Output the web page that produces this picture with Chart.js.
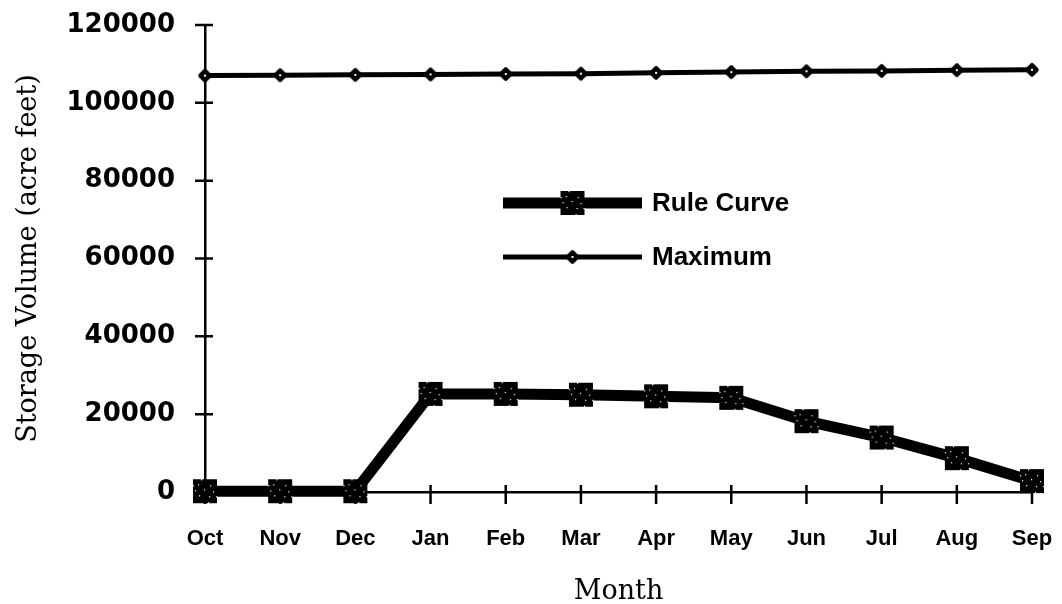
<!DOCTYPE html>
<html>
<head>
<meta charset="utf-8">
<script src="https://cdn.jsdelivr.net/npm/chart.js@4.4.1/dist/chart.umd.min.js"></script>
<style>
  html, body { margin: 0; padding: 0; background: #fff; overflow: hidden; }
  #wrap { width: 1062px; height: 604px; position: relative; }
  #chart { display: block; }
</style>
</head>
<body>
<div id="wrap"><canvas id="chart"></canvas></div>
<script>
const months = ['Oct', 'Nov', 'Dec', 'Jan', 'Feb', 'Mar', 'Apr', 'May', 'Jun', 'Jul', 'Aug', 'Sep'];
const ruleCurve = [200, 200, 200, 25200, 25200, 25000, 24600, 24200, 18200, 14000, 8700, 2800];
const maximum = [107000, 107100, 107200, 107300, 107400, 107500, 107700, 107900, 108100, 108200, 108400, 108500];
const yTicks = [0, 20000, 40000, 60000, 80000, 100000, 120000];

// speckled square marker used for the rule curve
function ruleMarker() {
  const c = document.createElement('canvas');
  c.width = 26; c.height = 26;
  const g = c.getContext('2d');
  g.fillStyle = '#000';
  g.fillRect(1, 1, 24, 24);
  g.fillStyle = '#fff';
  const dots = [[6,6],[18,7],[7,17],[17,18],[12,11],[3,12],[21,13],[1,7],[24,18],[9,1],[16,24]];
  dots.forEach(([x, y]) => g.fillRect(x, y, 1.2, 1.2));
  return c;
}

// rounded diamond used for the maximum line
function maxMarker() {
  const c = document.createElement('canvas');
  c.width = 18; c.height = 18;
  const g = c.getContext('2d');
  g.translate(9, 9);
  g.rotate(Math.PI / 4);
  g.fillStyle = '#000';
  g.beginPath();
  g.roundRect(-5.5, -5.5, 11, 11, 2.5);
  g.fill();
  g.setTransform(1, 0, 0, 1, 0, 0);
  g.fillStyle = '#fff';
  g.fillRect(8, 8, 2, 2);
  return c;
}

const ruleImg = ruleMarker();
const maxImg = maxMarker();

const crossTicks = {
  id: 'crossTicks',
  beforeDatasetsDraw(chart) {
    const { ctx, scales } = chart;
    const x0 = scales.x.left;
    const y0 = scales.y.bottom;
    ctx.save();
    ctx.strokeStyle = '#000';
    ctx.lineWidth = 2.5;
    ctx.beginPath();
    scales.y.ticks.forEach((t) => {
      if (t.value === 0) return;
      const y = scales.y.getPixelForValue(t.value);
      ctx.moveTo(x0 - 10, y);
      ctx.lineTo(x0 + 8, y);
    });
    months.forEach((m, i) => {
      const x = scales.x.getPixelForValue(i);
      ctx.moveTo(x, y0 - 7);
      ctx.lineTo(x, y0 + 12);
    });
    ctx.stroke();
    ctx.restore();
  }
};

const lineLegend = {
  id: 'lineLegend',
  afterDatasetsDraw(chart) {
    const { ctx, chartArea } = chart;
    const rows = [
      { ds: chart.data.datasets[0], img: ruleImg, y: chartArea.top + 178 },
      { ds: chart.data.datasets[1], img: maxImg, y: chartArea.top + 232 }
    ];
    const xa = chartArea.left + 298;
    const xb = chartArea.left + 437;
    ctx.save();
    rows.forEach((r) => {
      ctx.strokeStyle = '#000';
      ctx.lineWidth = r.ds.borderWidth;
      ctx.beginPath();
      ctx.moveTo(xa, r.y);
      ctx.lineTo(xb, r.y);
      ctx.stroke();
      const mx = (xa + xb) / 2;
      ctx.drawImage(r.img, mx - r.img.width / 2, r.y - r.img.height / 2);
      ctx.fillStyle = '#000';
      ctx.font = 'bold 26px "Liberation Sans", Arial, sans-serif';
      ctx.textBaseline = 'middle';
      ctx.textAlign = 'left';
      ctx.fillText(r.ds.label, xb + 10, r.y + 1);
    });
    ctx.restore();
  }
};

new Chart(document.getElementById('chart'), {
  type: 'line',
  data: {
    labels: months,
    datasets: [
      {
        label: 'Rule Curve',
        data: ruleCurve,
        borderColor: '#000',
        backgroundColor: '#000',
        borderWidth: 11,
        pointStyle: ruleImg,
        pointRadius: 13,
        tension: 0,
        clip: false
      },
      {
        label: 'Maximum',
        data: maximum,
        borderColor: '#000',
        backgroundColor: '#000',
        borderWidth: 5,
        pointStyle: maxImg,
        pointRadius: 9,
        tension: 0,
        clip: false
      }
    ]
  },
  options: {
    responsive: true,
    maintainAspectRatio: false,
    animation: false,
    layout: { padding: { top: 25, right: 30, left: 0, bottom: 0 } },
    plugins: {
      legend: { display: false },
      tooltip: { enabled: false }
    },
    scales: {
      x: {
        offset: false,
        // tickLength only spaces the labels; the visible ticks come from crossTicks
        grid: { display: false, drawTicks: true, tickLength: 34 },
        border: { display: true, color: '#000', width: 2.5 },
        ticks: {
          color: '#000',
          padding: 0,
          maxRotation: 0,
          autoSkip: false,
          font: { family: '"Liberation Sans", Arial, sans-serif', size: 22, weight: 'bold' }
        },
        title: {
          display: true,
          text: 'Month',
          color: '#000',
          padding: { top: 0, bottom: -4 },
          font: { family: '"DejaVu Serif", serif', size: 27 }
        },
        afterFit(scale) { scale.height = 112; }
      },
      y: {
        min: 0,
        max: 120000,
        grid: { display: false, drawTicks: true, tickLength: 30 },
        border: { display: true, color: '#000', width: 2.5 },
        afterBuildTicks(scale) { scale.ticks = yTicks.map((v) => ({ value: v })); },
        ticks: {
          color: '#000',
          padding: 0,
          callback: (v) => String(v),
          font: { family: '"DejaVu Sans", sans-serif', size: 26, weight: 'bold' }
        },
        title: {
          display: true,
          text: 'Storage Volume (acre feet)',
          color: '#000',
          padding: { top: 13, bottom: 0 },
          font: { family: '"DejaVu Serif", serif', size: 27 }
        },
        afterFit(scale) { scale.width = 205; }
      }
    }
  },
  plugins: [crossTicks, lineLegend]
});
</script>
</body>
</html>
